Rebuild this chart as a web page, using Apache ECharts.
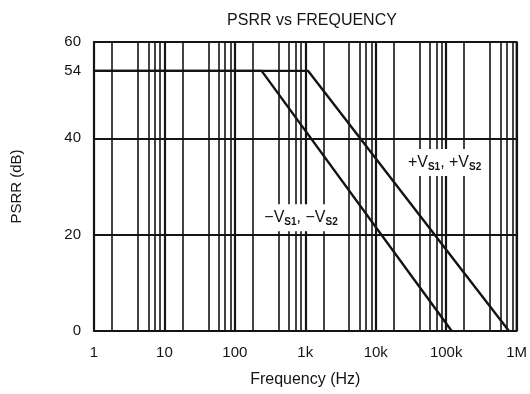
<!DOCTYPE html>
<html>
<head>
<meta charset="utf-8">
<script src="https://cdn.jsdelivr.net/npm/echarts@6/dist/echarts.min.js"></script>
<style>html,body{margin:0;padding:0;background:#fff}#c{width:530px;height:394px}</style>
</head>
<body>
<div id="c"></div>
<script>
// ---- data ----
const title = 'PSRR vs FREQUENCY';
const xName = 'Frequency (Hz)';
const yName = 'PSRR (dB)';
const decades = [1, 10, 100, 1000, 10000, 100000, 1000000];
const decadeLabels = ['1', '10', '100', '1k', '10k', '100k', '1M'];
const minorMultipliers = [1.8, 4.2, 5.9, 7.3, 8.7];
const yTicks = [0, 20, 40, 54, 60];
const yGridLines = [20, 40];
const negVsFreq = [1, 240, 120000];
const negVsDb = [54, 54, 0];
const posVsFreq = [1, 1100, 780000];
const posVsDb = [54, 54, 0];
const posLabelAt = [95000, 35];
const negLabelAt = [870, 23.5];

const font = 'Liberation Sans, Arial, sans-serif';
const ink = '#141414';

const vLines = [];
decades.forEach((d, i) => {
  vLines.push({ xAxis: d, lineStyle: { width: 2.2 } });
  if (i < decades.length - 1) minorMultipliers.forEach(m => vLines.push({ xAxis: d * m }));
});
const hLines = yGridLines.map(v => ({ yAxis: v, lineStyle: { width: 2.2 } }));

const rich = {
  m: { fontSize: 16, fontFamily: font, color: ink },
  s: { fontSize: 10, fontWeight: 'bold', fontFamily: font, color: ink, padding: [9, 0, 0, 0] }
};

const chart = echarts.init(document.getElementById('c'), null, { renderer: 'canvas' });
chart.setOption({
  animation: false,
  backgroundColor: '#fff',
  title: {
    text: title, left: 307, top: 8, textAlign: 'center',
    textStyle: { fontSize: 16, fontWeight: 'normal', fontFamily: font, color: ink }
  },
  grid: { left: 94, right: 13, top: 42, bottom: 63, show: true, borderColor: ink, borderWidth: 1.8 },
  xAxis: {
    type: 'log', logBase: 10, min: 1, max: 1000000,
    name: xName, nameLocation: 'middle', nameGap: 41,
    nameTextStyle: { fontSize: 16, fontFamily: font, color: ink },
    axisLine: { show: false }, axisTick: { show: false },
    splitLine: { show: false }, minorSplitLine: { show: false },
    axisLabel: {
      margin: 14, fontSize: 15, fontFamily: font, color: ink, showMinLabel: true, showMaxLabel: true,
      formatter: v => { const i = decades.indexOf(Math.round(v)); return i >= 0 ? decadeLabels[i] : ''; }
    }
  },
  yAxis: {
    type: 'value', min: 0, max: 60, interval: 2,
    name: yName, nameLocation: 'middle', nameGap: 70, nameRotate: 90,
    nameTextStyle: { fontSize: 15, fontFamily: font, color: ink },
    axisLine: { show: false }, axisTick: { show: false }, splitLine: { show: false },
    axisLabel: {
      margin: 13, fontSize: 15, fontFamily: font, color: ink,
      formatter: v => yTicks.includes(v) ? String(v) : ''
    }
  },
  series: [
    {
      type: 'line', data: [], z: 1, silent: true,
      markLine: {
        silent: true, symbol: 'none', label: { show: false },
        lineStyle: { color: ink, type: 'solid', width: 1.6 },
        data: vLines.concat(hLines)
      }
    },
    {
      name: '-Vs', type: 'line', z: 3, symbol: 'none', silent: true,
      lineStyle: { color: ink, width: 2.4 },
      data: negVsFreq.map((f, i) => [f, negVsDb[i]])
    },
    {
      name: '+Vs', type: 'line', z: 3, symbol: 'none', silent: true,
      lineStyle: { color: ink, width: 2.4 },
      data: posVsFreq.map((f, i) => [f, posVsDb[i]])
    },
    {
      type: 'line', data: [], z: 5, silent: true,
      markPoint: {
        silent: true, symbol: 'rect', symbolSize: 0,
        label: {
          show: true, position: 'inside', backgroundColor: '#fff', padding: [4, 4, 4, 4], rich: rich
        },
        data: [
          { coord: posLabelAt, label: { formatter: '{m|+V}{s|S1}{m|, +V}{s|S2}' } },
          { coord: negLabelAt, label: { formatter: '{m|\u2212V}{s|S1}{m|, \u2212V}{s|S2}' } }
        ]
      }
    }
  ]
});
</script>
</body>
</html>
